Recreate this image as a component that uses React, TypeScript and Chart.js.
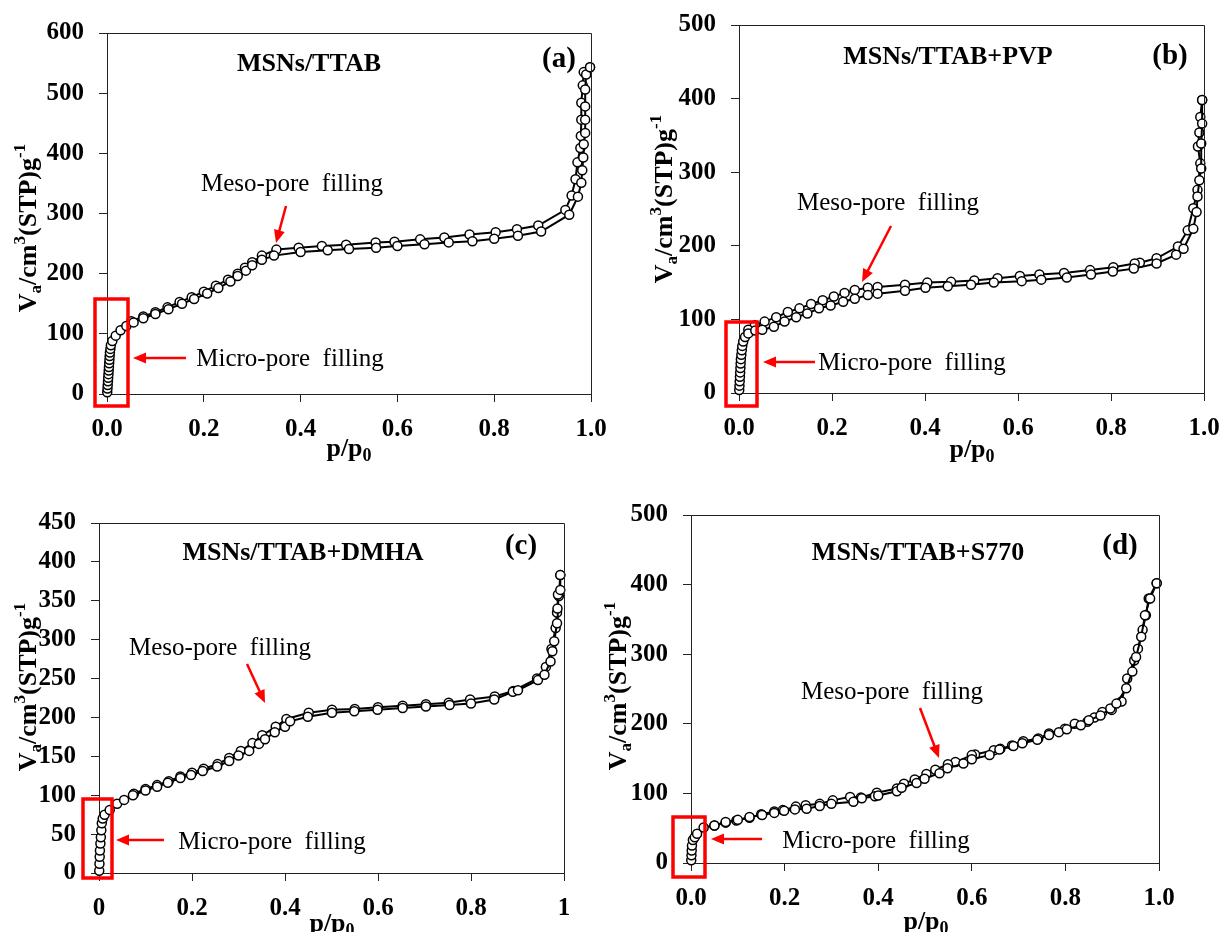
import React, { useEffect, useRef } from 'react';
import { Chart, registerables } from 'chart.js';

Chart.register(...registerables);

const FONT = "'Liberation Serif', 'Times New Roman', Times, serif";

// ---------- Panel (a) MSNs/TTAB ----------
const aAdsP = [0.0005, 0.001, 0.0015, 0.002, 0.0025, 0.003, 0.0035, 0.004, 0.0045, 0.005, 0.0055, 0.006, 0.007, 0.008, 0.011, 0.018, 0.028, 0.04, 0.055, 0.075, 0.1, 0.127, 0.155, 0.18, 0.207, 0.23, 0.255, 0.27, 0.287, 0.3, 0.32, 0.345, 0.4, 0.456, 0.5, 0.556, 0.6, 0.656, 0.706, 0.755, 0.8, 0.849, 0.897, 0.955, 0.973, 0.98, 0.982, 0.984, 0.985, 0.988, 0.988, 0.988, 0.988, 0.99, 0.998];
const aAdsV = [3, 9, 15, 21, 27, 33, 39, 45, 51, 57, 63, 69, 75, 81, 88, 97, 106, 113, 119, 126, 133, 141, 150, 158, 167, 176, 187, 196, 205, 214, 223, 230, 236, 239, 241, 243, 246, 249, 252, 254, 258, 263, 270, 298, 328, 351, 372, 393, 415, 434, 456, 478, 506, 531, 543];
const aDesP = [0.998, 0.985, 0.983, 0.98, 0.98, 0.979, 0.978, 0.972, 0.968, 0.96, 0.947, 0.891, 0.847, 0.803, 0.749, 0.697, 0.647, 0.594, 0.555, 0.494, 0.444, 0.396, 0.35, 0.32, 0.3, 0.285, 0.27, 0.25, 0.225, 0.2, 0.175, 0.15, 0.125, 0.1, 0.075, 0.05];
const aDesV = [543, 535, 513, 484, 456, 429, 409, 385, 357, 330, 306, 280, 274, 269, 265, 260, 257, 253, 252, 248, 246, 243, 240, 230, 219, 210, 200, 190, 180, 170, 161, 153, 144, 136, 129, 121];

// ---------- Panel (b) MSNs/TTAB+PVP ----------
const bAdsP = [0.0005, 0.001, 0.0015, 0.002, 0.0025, 0.003, 0.0035, 0.004, 0.005, 0.006, 0.007, 0.009, 0.013, 0.02, 0.035, 0.05, 0.075, 0.098, 0.123, 0.147, 0.172, 0.197, 0.224, 0.249, 0.277, 0.298, 0.357, 0.401, 0.449, 0.499, 0.548, 0.608, 0.65, 0.705, 0.757, 0.804, 0.849, 0.898, 0.94, 0.956, 0.977, 0.984, 0.986, 0.99, 0.994, 0.994, 0.996, 0.996];
const bAdsV = [4, 10, 16, 22, 28, 34, 40, 46, 52, 58, 64, 70, 76, 81, 85, 86, 90, 97, 103, 108, 115, 119, 124, 128, 133, 135, 139, 143, 145, 147, 150, 152, 154, 157, 161, 165, 169, 176, 188, 196, 223, 246, 267, 289, 305, 339, 366, 398];
const bDesP = [0.996, 0.992, 0.99, 0.987, 0.992, 0.986, 0.977, 0.965, 0.944, 0.898, 0.862, 0.851, 0.805, 0.755, 0.699, 0.646, 0.604, 0.556, 0.506, 0.456, 0.405, 0.357, 0.298, 0.277, 0.249, 0.227, 0.204, 0.18, 0.155, 0.13, 0.105, 0.08, 0.055, 0.034, 0.02];
const bDesV = [398, 375, 354, 335, 312, 276, 251, 221, 199, 183, 177, 176, 171, 167, 163, 161, 159, 156, 153, 151, 150, 147, 144, 143, 140, 136, 131, 126, 121, 115, 110, 103, 97, 92, 86];

// ---------- Panel (c) MSNs/TTAB+DMHA ----------
const cAdsP = [0.0005, 0.001, 0.0015, 0.002, 0.003, 0.004, 0.005, 0.006, 0.008, 0.012, 0.023, 0.039, 0.054, 0.073, 0.1, 0.125, 0.148, 0.175, 0.198, 0.223, 0.254, 0.28, 0.3, 0.323, 0.344, 0.357, 0.378, 0.4, 0.411, 0.449, 0.501, 0.549, 0.599, 0.653, 0.703, 0.754, 0.8, 0.85, 0.89, 0.901, 0.944, 0.958, 0.971, 0.975, 0.979, 0.985, 0.986, 0.987, 0.992, 0.992];
const cAdsV = [3, 12, 21, 29, 38, 46, 55, 64, 70, 75, 81, 89, 94, 100, 106, 111, 116, 122, 126, 131, 137, 144, 151, 157, 166, 172, 181, 188, 195, 201, 206, 208, 210, 212, 214, 216, 218, 223, 233, 235, 248, 255, 272, 285, 298, 321, 340, 358, 364, 383];
const cDesP = [0.992, 0.989, 0.985, 0.982, 0.973, 0.961, 0.942, 0.891, 0.851, 0.798, 0.752, 0.703, 0.653, 0.6, 0.55, 0.501, 0.451, 0.403, 0.38, 0.351, 0.33, 0.305, 0.28, 0.255, 0.225, 0.2, 0.175, 0.15, 0.125, 0.1, 0.075];
const cDesV = [383, 356, 335, 315, 288, 265, 250, 234, 227, 223, 219, 217, 215, 213, 211, 210, 206, 198, 188, 177, 167, 157, 148, 140, 134, 129, 124, 118, 113, 108, 102];

// ---------- Panel (d) MSNs/TTAB+S770 ----------
const dAdsP = [0.0005, 0.001, 0.0015, 0.002, 0.004, 0.008, 0.013, 0.027, 0.05, 0.074, 0.1, 0.125, 0.152, 0.178, 0.199, 0.222, 0.247, 0.275, 0.3, 0.347, 0.365, 0.393, 0.4, 0.44, 0.45, 0.482, 0.499, 0.531, 0.548, 0.582, 0.6, 0.638, 0.659, 0.689, 0.708, 0.74, 0.765, 0.786, 0.803, 0.833, 0.85, 0.875, 0.896, 0.909, 0.93, 0.943, 0.951, 0.962, 0.97, 0.981, 0.995];
const dAdsV = [4, 11, 18, 25, 33, 37, 42, 51, 54, 59, 62, 66, 69, 72, 75, 77, 78, 82, 85, 88, 93, 96, 97, 103, 108, 115, 121, 129, 136, 143, 149, 155, 163, 168, 172, 177, 184, 188, 192, 198, 205, 212, 222, 229, 251, 275, 296, 325, 356, 380, 402];
const dDesP = [0.995, 0.978, 0.972, 0.965, 0.955, 0.947, 0.932, 0.92, 0.899, 0.879, 0.862, 0.847, 0.82, 0.799, 0.765, 0.742, 0.71, 0.686, 0.661, 0.647, 0.607, 0.6, 0.565, 0.549, 0.522, 0.503, 0.478, 0.455, 0.44, 0.397, 0.363, 0.34, 0.303, 0.275, 0.245, 0.224, 0.196, 0.178, 0.15, 0.125, 0.097, 0.074, 0.05];
const dDesV = [402, 380, 356, 335, 308, 291, 265, 232, 220, 217, 209, 203, 200, 193, 186, 179, 175, 169, 164, 162, 156, 155, 145, 142, 134, 128, 120, 114, 107, 101, 94, 95, 90, 85, 83, 81, 76, 74, 70, 65, 61, 58, 54];

// ---------- tick labels ----------
const xTicksDecimal = ['0.0', '0.2', '0.4', '0.6', '0.8', '1.0'];
const xTicksPlain = ['0', '0.2', '0.4', '0.6', '0.8', '1'];

const titles = ['MSNs/TTAB', 'MSNs/TTAB+PVP', 'MSNs/TTAB+DMHA', 'MSNs/TTAB+S770'];
const tags = ['(a)', '(b)', '(c)', '(d)'];
const mesoText = 'Meso-pore  filling';
const microText = 'Micro-pore  filling';

const zip = (xs: number[], ys: number[]) => xs.map((x, i) => ({ x, y: ys[i] }));

type Panel = {
  ads: { x: number; y: number }[];
  des: { x: number; y: number }[];
  yMax: number;
  yStep: number;
  xLabels: string[];
  area: { l: number; t: number; r: number; b: number };
  title: string;
  titlePos: [number, number];
  tag: string;
  tagPos: [number, number];
  meso: [number, number];
  mesoArrow: [number, number, number, number];
  micro: [number, number];
  microArrow: [number, number, number, number];
  rect: [number, number, number, number];
  yTitle: [number, number];
  xTitle: [number, number];
};

const panels: Panel[] = [
  {
    ads: zip(aAdsP, aAdsV), des: zip(aDesP, aDesV), yMax: 600, yStep: 100, xLabels: xTicksDecimal,
    area: { l: 107, t: 33, r: 591, b: 394 },
    title: titles[0], titlePos: [309, 64], tag: tags[0], tagPos: [559, 60],
    meso: [292, 184], mesoArrow: [286, 206, 276, 243],
    micro: [290, 359], microArrow: [186, 358, 133, 358],
    rect: [95, 299, 128, 406], yTitle: [27, 228], xTitle: [349, 447],
  },
  {
    ads: zip(bAdsP, bAdsV), des: zip(bDesP, bDesV), yMax: 500, yStep: 100, xLabels: xTicksDecimal,
    area: { l: 739, t: 25, r: 1204, b: 393 },
    title: titles[1], titlePos: [948, 57], tag: tags[1], tagPos: [1170, 57],
    meso: [888, 203], mesoArrow: [891, 226, 862, 282],
    micro: [912, 363], microArrow: [815, 362, 763, 362],
    rect: [726, 322, 757, 406], yTitle: [663, 199], xTitle: [972, 448],
  },
  {
    ads: zip(cAdsP, cAdsV), des: zip(cDesP, cDesV), yMax: 450, yStep: 50, xLabels: xTicksPlain,
    area: { l: 99, t: 523, r: 564, b: 873 },
    title: titles[2], titlePos: [303, 553], tag: tags[2], tagPos: [521, 547],
    meso: [220, 648], mesoArrow: [247, 664, 265, 703],
    micro: [272, 842], microArrow: [164, 840, 116, 840],
    rect: [83, 799, 112, 878], yTitle: [27, 687], xTitle: [332, 922],
  },
  {
    ads: zip(dAdsP, dAdsV), des: zip(dDesP, dDesV), yMax: 500, yStep: 100, xLabels: xTicksDecimal,
    area: { l: 691, t: 515, r: 1159, b: 863 },
    title: titles[3], titlePos: [918, 553], tag: tags[3], tagPos: [1120, 547],
    meso: [892, 692], mesoArrow: [920, 708, 939, 758],
    micro: [876, 841], microArrow: [762, 839, 711, 839],
    rect: [673, 817, 705, 877], yTitle: [617, 686], xTitle: [926, 920],
  },
];

type Part = { t: string; size: number; dy: number };

function drawRich(ctx: CanvasRenderingContext2D, parts: Part[], cx: number, cy: number, rotate: boolean, mainSize: number) {
  ctx.save();
  ctx.fillStyle = '#000';
  ctx.textAlign = 'left';
  ctx.textBaseline = 'alphabetic';
  let w = 0;
  for (const p of parts) {
    ctx.font = `bold ${p.size}px ${FONT}`;
    w += ctx.measureText(p.t).width;
  }
  ctx.translate(cx, cy);
  if (rotate) ctx.rotate(-Math.PI / 2);
  let x = -w / 2;
  const base = mainSize * 0.33;
  for (const p of parts) {
    ctx.font = `bold ${p.size}px ${FONT}`;
    ctx.fillText(p.t, x, base + p.dy);
    x += ctx.measureText(p.t).width;
  }
  ctx.restore();
}

function drawArrow(ctx: CanvasRenderingContext2D, a: [number, number, number, number]) {
  const [x1, y1, x2, y2] = a;
  const ang = Math.atan2(y2 - y1, x2 - x1);
  const hl = 13;
  const hw = 5.5;
  ctx.save();
  ctx.strokeStyle = '#ff0000';
  ctx.fillStyle = '#ff0000';
  ctx.lineWidth = 2.5;
  ctx.beginPath();
  ctx.moveTo(x1, y1);
  ctx.lineTo(x2 - Math.cos(ang) * hl * 0.8, y2 - Math.sin(ang) * hl * 0.8);
  ctx.stroke();
  ctx.beginPath();
  ctx.moveTo(x2, y2);
  ctx.lineTo(x2 - Math.cos(ang) * hl - Math.sin(ang) * hw, y2 - Math.sin(ang) * hl + Math.cos(ang) * hw);
  ctx.lineTo(x2 - Math.cos(ang) * hl + Math.sin(ang) * hw, y2 - Math.sin(ang) * hl - Math.cos(ang) * hw);
  ctx.closePath();
  ctx.fill();
  ctx.restore();
}

const YW = 70;
const XH = 50;

function makeConfig(p: Panel): any {
  const decor = {
    id: 'decor',
    afterDraw(chart: any) {
      const ctx: CanvasRenderingContext2D = chart.ctx;
      const ca = chart.chartArea;
      ctx.save();
      // top and right border
      ctx.strokeStyle = '#222';
      ctx.lineWidth = 1;
      ctx.beginPath();
      ctx.moveTo(ca.left, ca.top + 0.5);
      ctx.lineTo(ca.right + 0.5, ca.top + 0.5);
      ctx.lineTo(ca.right + 0.5, ca.bottom);
      ctx.stroke();
      // titles
      ctx.fillStyle = '#000';
      ctx.textAlign = 'center';
      ctx.textBaseline = 'middle';
      ctx.font = `bold 26px ${FONT}`;
      ctx.fillText(p.title, p.titlePos[0], p.titlePos[1]);
      ctx.font = `bold 29px ${FONT}`;
      ctx.fillText(p.tag, p.tagPos[0], p.tagPos[1]);
      ctx.font = `25px ${FONT}`;
      ctx.fillText(mesoText, p.meso[0], p.meso[1]);
      ctx.fillText(microText, p.micro[0], p.micro[1]);
      // red rectangle
      ctx.strokeStyle = '#ff0000';
      ctx.lineWidth = 3.5;
      const [rx1, ry1, rx2, ry2] = p.rect;
      ctx.strokeRect(rx1, ry1, rx2 - rx1, ry2 - ry1);
      ctx.restore();
      drawArrow(ctx, p.mesoArrow);
      drawArrow(ctx, p.microArrow);
      // axis titles
      drawRich(ctx, [
        { t: 'V', size: 26, dy: 0 },
        { t: 'a', size: 17, dy: 5 },
        { t: '/cm', size: 26, dy: 0 },
        { t: '3', size: 17, dy: -11 },
        { t: '(STP)g', size: 26, dy: 0 },
        { t: '-1', size: 17, dy: -11 },
      ], p.yTitle[0], p.yTitle[1], true, 26);
      drawRich(ctx, [
        { t: 'p/p', size: 26, dy: 0 },
        { t: '0', size: 18, dy: 5 },
      ], p.xTitle[0], p.xTitle[1], false, 26);
    },
  };

  const pointStyle = {
    showLine: true,
    borderColor: '#000',
    borderWidth: 2,
    pointRadius: 4.5,
    pointBackgroundColor: '#fff',
    pointBorderColor: '#000',
    pointBorderWidth: 1.5,
    tension: 0,
    clip: false,
  };

  return {
    type: 'scatter',
    data: {
      datasets: [
        { label: 'Adsorption', data: p.ads, ...pointStyle },
        { label: 'Desorption', data: p.des, ...pointStyle },
      ],
    },
    options: {
      animation: false,
      responsive: false,
      devicePixelRatio: 1,
      layout: {
        padding: {
          left: p.area.l - YW,
          top: p.area.t,
          right: 1220 - p.area.r,
          bottom: 932 - p.area.b - XH,
        },
      },
      plugins: { legend: { display: false }, tooltip: { enabled: false } },
      scales: {
        x: {
          type: 'linear',
          min: 0,
          max: 1,
          afterFit: (s: any) => {
            s.height = XH;
            s.paddingLeft = 0;
            s.paddingRight = 0;
          },
          ticks: {
            stepSize: 0.2,
            autoSkip: false,
            maxRotation: 0,
            padding: 13,
            color: '#000',
            font: { family: FONT, size: 25, weight: 'bold' },
            callback: (_v: any, i: number) => p.xLabels[i],
          },
          grid: { display: true, drawOnChartArea: false, drawTicks: true, tickLength: 8, color: '#222', lineWidth: 1 },
          border: { display: true, color: '#222', width: 1 },
        },
        y: {
          type: 'linear',
          min: 0,
          max: p.yMax,
          afterFit: (s: any) => {
            s.width = YW;
            s.paddingTop = 0;
            s.paddingBottom = 0;
          },
          ticks: {
            stepSize: p.yStep,
            autoSkip: false,
            padding: 15,
            color: '#000',
            font: { family: FONT, size: 25, weight: 'bold' },
          },
          grid: { display: true, drawOnChartArea: false, drawTicks: true, tickLength: 8, color: '#222', lineWidth: 1 },
          border: { display: true, color: '#222', width: 1 },
        },
      },
    },
    plugins: [decor],
  };
}

function PanelChart({ p }: { p: Panel }) {
  const ref = useRef<HTMLCanvasElement>(null);
  useEffect(() => {
    const chart = new Chart(ref.current as HTMLCanvasElement, makeConfig(p));
    return () => chart.destroy();
  }, [p]);
  return (
    <canvas
      ref={ref}
      width={1220}
      height={932}
      style={{ position: 'absolute', left: 0, top: 0, width: 1220, height: 932 }}
    />
  );
}

export default function App() {
  return (
    <div style={{ position: 'absolute', left: 0, top: 0, width: 1220, height: 932, background: '#fff', overflow: 'hidden' }}>
      {panels.map((p, i) => (
        <PanelChart key={i} p={p} />
      ))}
    </div>
  );
}
